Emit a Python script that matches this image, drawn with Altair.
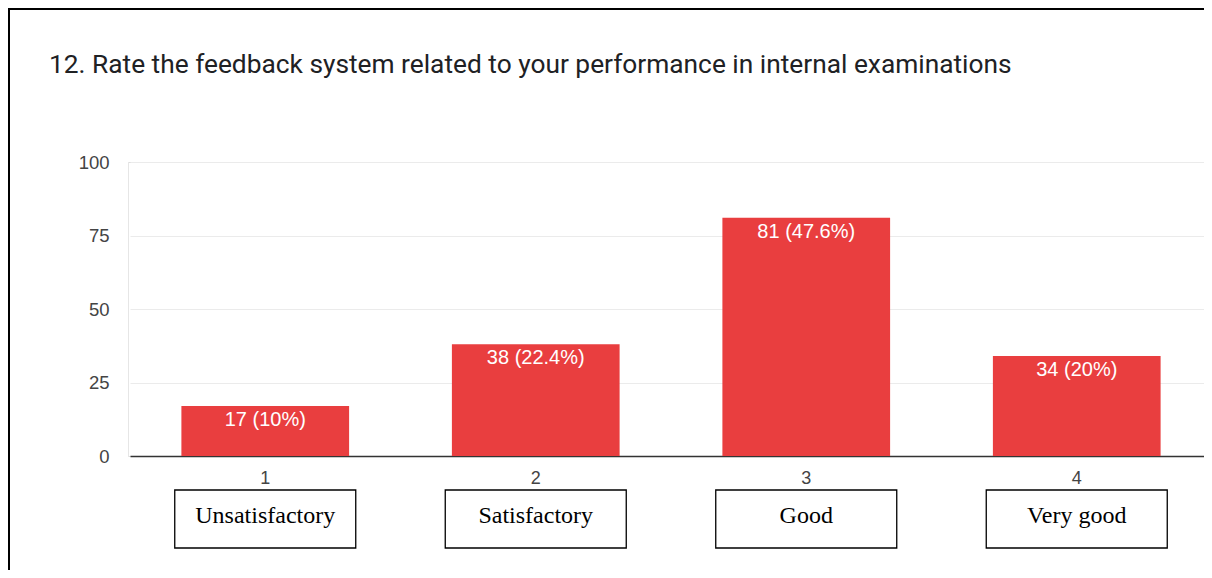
import altair as alt
import pandas as pd

title_text = "12. Rate the feedback system related to your performance in internal examinations"
categories = ["1", "2", "3", "4"]
counts = [17, 38, 81, 34]
percents = ["10%", "22.4%", "47.6%", "20%"]
ratings = ["Unsatisfactory", "Satisfactory", "Good", "Very good"]
y_ticks = [0, 25, 50, 75, 100]

df = pd.DataFrame({
    "cat": categories,
    "count": counts,
    "label": [f"{c} ({p})" for c, p in zip(counts, percents)],
    "rating": ratings,
})

W, H = 1076, 294
BAR = "#E93E3F"

xenc = alt.X("cat:O", sort=categories,
             scale=alt.Scale(paddingInner=0.38, paddingOuter=0.19, range=[2, 1084]),
             axis=alt.Axis(title=None, labelAngle=0, ticks=False,
                           labelFont="Liberation Sans", labelFontSize=18,
                           labelColor="#444444", labelPadding=13,
                           domainColor="#333333", domainWidth=1.5))
yenc = alt.Y("count:Q", scale=alt.Scale(domain=[0, 100], nice=False),
             axis=alt.Axis(title=None, values=y_ticks, ticks=False,
                           labelFont="Liberation Sans", labelFontSize=18.5,
                           labelColor="#444444", labelPadding=19,
                           gridColor="#EBEBEB", gridWidth=1.2,
                           domainColor="#E6E6E6"))

base = alt.Chart(df)
bars = base.mark_bar(color=BAR).encode(x=xenc, y=yenc)
labels = base.mark_text(color="white", font="Liberation Sans", fontSize=20,
                        baseline="middle", dy=14).encode(
    x=alt.X("cat:O", sort=categories), y="count:Q", text="label:N")
boxes = base.mark_bar(width=181, fill="white", stroke="black", strokeWidth=1.3).encode(
    x=alt.X("cat:O", sort=categories), y=alt.value(328), y2=alt.value(386))
box_text = base.mark_text(font="Liberation Serif", fontSize=24, color="black",
                          baseline="middle").encode(
    x=alt.X("cat:O", sort=categories), y=alt.value(354), text="rating:N")

one = pd.DataFrame({"t": [title_text]})
title = alt.Chart(one).mark_text(font="Roboto", fontSize=26.3, color="#202124",
                                 align="left", baseline="alphabetic").encode(
    x=alt.value(-79), y=alt.value(-89), text="t:N")
left_border = alt.Chart(one).mark_rule(color="black", strokeWidth=2).encode(
    x=alt.value(-119), y=alt.value(-153), y2=alt.value(408))
top_border = alt.Chart(one).mark_rule(color="black", strokeWidth=2).encode(
    x=alt.value(-120), x2=alt.value(W), y=alt.value(-153))

chart = alt.layer(bars, labels, boxes, box_text, title, left_border, top_border).properties(
    width=W, height=H,
    autosize=alt.AutoSizeParams(type="none"),
    padding={"left": 120, "top": 154, "right": 0, "bottom": 114},
).configure_view(stroke=None).configure(background="white")

chart.save("out.html", embed_options={"renderer": "svg", "actions": False})
